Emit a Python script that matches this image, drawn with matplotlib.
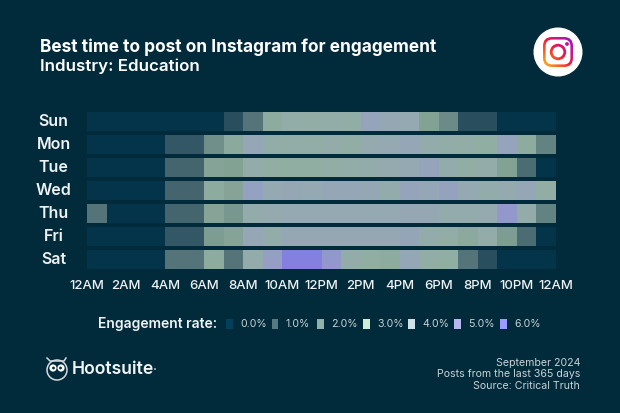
import matplotlib
matplotlib.use("Agg")
import matplotlib.pyplot as plt
import numpy as np
from matplotlib.colors import LinearSegmentedColormap, Normalize
from matplotlib.patches import Circle, Ellipse, FancyBboxPatch, Rectangle
from matplotlib.transforms import ScaledTranslation

BG = "#012a3a"
FONT = ["Inter", "DejaVu Sans"]

days = ["Sun", "Mon", "Tue", "Wed", "Thu", "Fri", "Sat"]
hour_labels = ["12AM", "2AM", "4AM", "6AM", "8AM", "10AM", "12PM", "2PM", "4PM",
               "6PM", "8PM", "10PM", "12AM"]
legend_labels = ["0.0%", "1.0%", "2.0%", "3.0%", "4.0%", "5.0%", "6.0%"]
legend_colors = ["#04405a", "#557a82", "#93b0a8", "#cfeed5", "#d0e0e8", "#b8b8f0", "#9a9aff"]
footer_lines = ["September 2024", "Posts from the last 365 days", "Source: Critical Truth"]

sun = [0, 0, 0, 0, 0, 0, 0, 0.7, 1.2, 2.4, 2.8, 2.7, 2.8, 2.7, 3.6, 3.3, 3.2, 2.0, 1.5, 0.7, 0.7, 0, 0, 0]
mon = [0, 0, 0, 0, 0.8, 0.8, 1.6, 2.3, 3.4, 2.8, 2.7, 2.7, 2.9, 2.6, 3.1, 3.2, 3.4, 3.0, 2.8, 2.7, 2.5, 3.6, 2.4, 1.4]
tue = [0, 0, 0, 0, 1.0, 1.0, 2.1, 2.0, 2.9, 2.6, 2.5, 2.5, 2.7, 2.8, 3.0, 3.1, 3.2, 3.6, 3.0, 2.6, 2.9, 2.0, 1.1, 0]
wed = [0, 0, 0, 0, 1.0, 1.0, 2.4, 2.1, 3.8, 3.2, 3.3, 3.2, 3.4, 3.4, 3.3, 3.0, 3.6, 3.4, 3.7, 3.2, 3.0, 3.1, 3.4, 2.6]
thu = [1.2, 0, 0, 0, 1.0, 1.0, 2.1, 1.8, 3.0, 3.1, 3.2, 3.2, 3.2, 3.2, 3.2, 3.2, 3.3, 3.3, 3.0, 3.0, 3.1, 4.4, 2.9, 1.4]
fri = [0, 0, 0, 0, 0.8, 0.8, 1.9, 2.1, 3.4, 2.9, 3.3, 3.3, 3.3, 3.3, 3.3, 3.3, 3.5, 3.0, 2.7, 2.3, 2.9, 1.9, 1.1, 0]
sat = [0, 0, 0, 0, 1.2, 1.2, 2.4, 1.2, 3.0, 3.9, 6.0, 6.0, 4.4, 2.9, 2.5, 2.4, 3.4, 2.7, 2.5, 1.2, 0.7, 0, 0, 0]
rows = [sun, mon, tue, wed, thu, fri, sat]

# cell colours are more muted than the legend swatches
cell_cmap = LinearSegmentedColormap.from_list("engagement", [
    (0 / 6, "#03344a"), (0.7 / 6, "#2a4f5f"), (1.0 / 6, "#46666f"), (1.5 / 6, "#6b8a88"),
    (2.0 / 6, "#82a294"), (2.5 / 6, "#90aea2"), (3.0 / 6, "#94abac"), (3.5 / 6, "#95a5b8"),
    (4.0 / 6, "#959ec6"), (5.0 / 6, "#9090d4"), (6.0 / 6, "#8480e0"),
])
norm = Normalize(0, 6)

W, H = 620, 413
fig = plt.figure(figsize=(W / 100, H / 100), dpi=100, facecolor=BG)

# heatmap axes, positioned in pixels
ax = fig.add_axes([87 / W, 1 - 271.2 / H, 469 / W, 161 / H], facecolor=BG)
x_edges = np.arange(25)
for i, row in enumerate(rows):
    ax.pcolormesh(x_edges, [i + 0.076, i + 0.924], [row], cmap=cell_cmap, norm=norm,
                  antialiased=False, linewidth=0)
ax.set_xlim(0, 24)
ax.set_ylim(7, 0)
ax.set_xticks(np.arange(0, 25, 2), hour_labels, family=FONT, fontsize=9.5, color="#eef2f3", weight=500)
ax.set_yticks(np.arange(7) + 0.5, days, family=FONT, fontsize=11.5, color="#eef2f3", weight=600, ha="center")
ax.tick_params(length=0)
ax.tick_params(axis="x", pad=6)
ax.tick_params(axis="y", pad=24)
# day labels sit a little above the row centres
nudge = ScaledTranslation(0, 1.5 / 100, fig.dpi_scale_trans)
for label in ax.get_yticklabels():
    label.set_transform(label.get_transform() + nudge)
for spine in ax.spines.values():
    spine.set_visible(False)

# overlay in pixel coordinates for titles, legend, logos
ov = fig.add_axes([0, 0, 1, 1], facecolor="none")
ov.axis("off")

ov.text(40, 47, "Best time to post on Instagram for engagement", family=FONT, fontsize=12.45,
        weight="bold", color="white", va="center")
ov.text(40, 66, "Industry: Education", family=FONT, fontsize=12.2, weight=600, color="white", va="center")

# legend
ov.text(98, 324, "Engagement rate:", family=FONT, fontsize=10, weight=600, color="#eef2f3", va="center")
swatch_x = [226, 271.5, 317, 363, 408, 454, 500]
for sx, c, lab in zip(swatch_x, legend_colors, legend_labels):
    ov.add_patch(Rectangle((sx, 319), 6.5, 10, fc=c, ec="none"))
    ov.text(sx + 14, 324, lab, family=FONT, fontsize=7.6, color="#c9d3d7", va="center")

# footer
for y, line in zip([363, 374, 386], footer_lines):
    ov.text(580, y, line, family=FONT, fontsize=7.6, color="#c9d3d7", ha="right", va="center")

# Hootsuite logo
ov.add_patch(Ellipse((57, 370), 20, 20, fc="none", ec="#d5dcdf", lw=1.1))
ov.plot([47, 50, 64, 66], [358, 361, 361, 358], color="#d5dcdf", lw=1.1)
ov.add_patch(Circle((53, 368), 3.6, fc="white", ec="none"))
ov.add_patch(Circle((61, 368), 3.6, fc="white", ec="none"))
ov.add_patch(Circle((53.5, 368), 1.4, fc=BG, ec="none"))
ov.add_patch(Circle((60.5, 368), 1.4, fc=BG, ec="none"))
ov.text(72, 370, "Hootsuite", family=FONT, fontsize=12.7, weight=600, color="#f2f5f6", va="center")
ov.add_patch(Circle((155, 369), 1, fc="#aab6bb", ec="none"))

# Instagram logo
ig_cmap = LinearSegmentedColormap.from_list("ig", ["#fdc830", "#f9741f", "#ee1c3f", "#c4149a", "#7a1fc4"])
ggx, ggy = np.meshgrid(np.linspace(0, 1, 64), np.linspace(0, 1, 64))
grad = (ggx + ggy) / 2
ig_box = (542, 574, 68, 36)


def ig_fill(patch, z):
    ov.add_patch(patch)
    patch.set_visible(False)
    im = ov.imshow(grad, cmap=ig_cmap, extent=ig_box, origin="lower", aspect="auto", zorder=z)
    im.set_clip_path(patch)


ov.add_patch(Circle((558, 52), 24.5, fc="white", ec="none", zorder=4))
ig_fill(FancyBboxPatch((546, 40), 24, 24, boxstyle="round,pad=3,rounding_size=9", fc="k", ec="none"), 5)
ov.add_patch(FancyBboxPatch((546, 40), 24, 24, boxstyle="round,pad=0.4,rounding_size=6.5", fc="white", ec="none", zorder=6))
ig_fill(Circle((558, 52), 8.2, fc="k", ec="none"), 7)
ov.add_patch(Circle((558, 52), 5.4, fc="white", ec="none", zorder=8))
ig_fill(Circle((567, 44), 1.9, fc="k", ec="none"), 7)

ov.set_xlim(0, W)
ov.set_ylim(H, 0)

fig.savefig("out.png", dpi=100, facecolor=BG)
